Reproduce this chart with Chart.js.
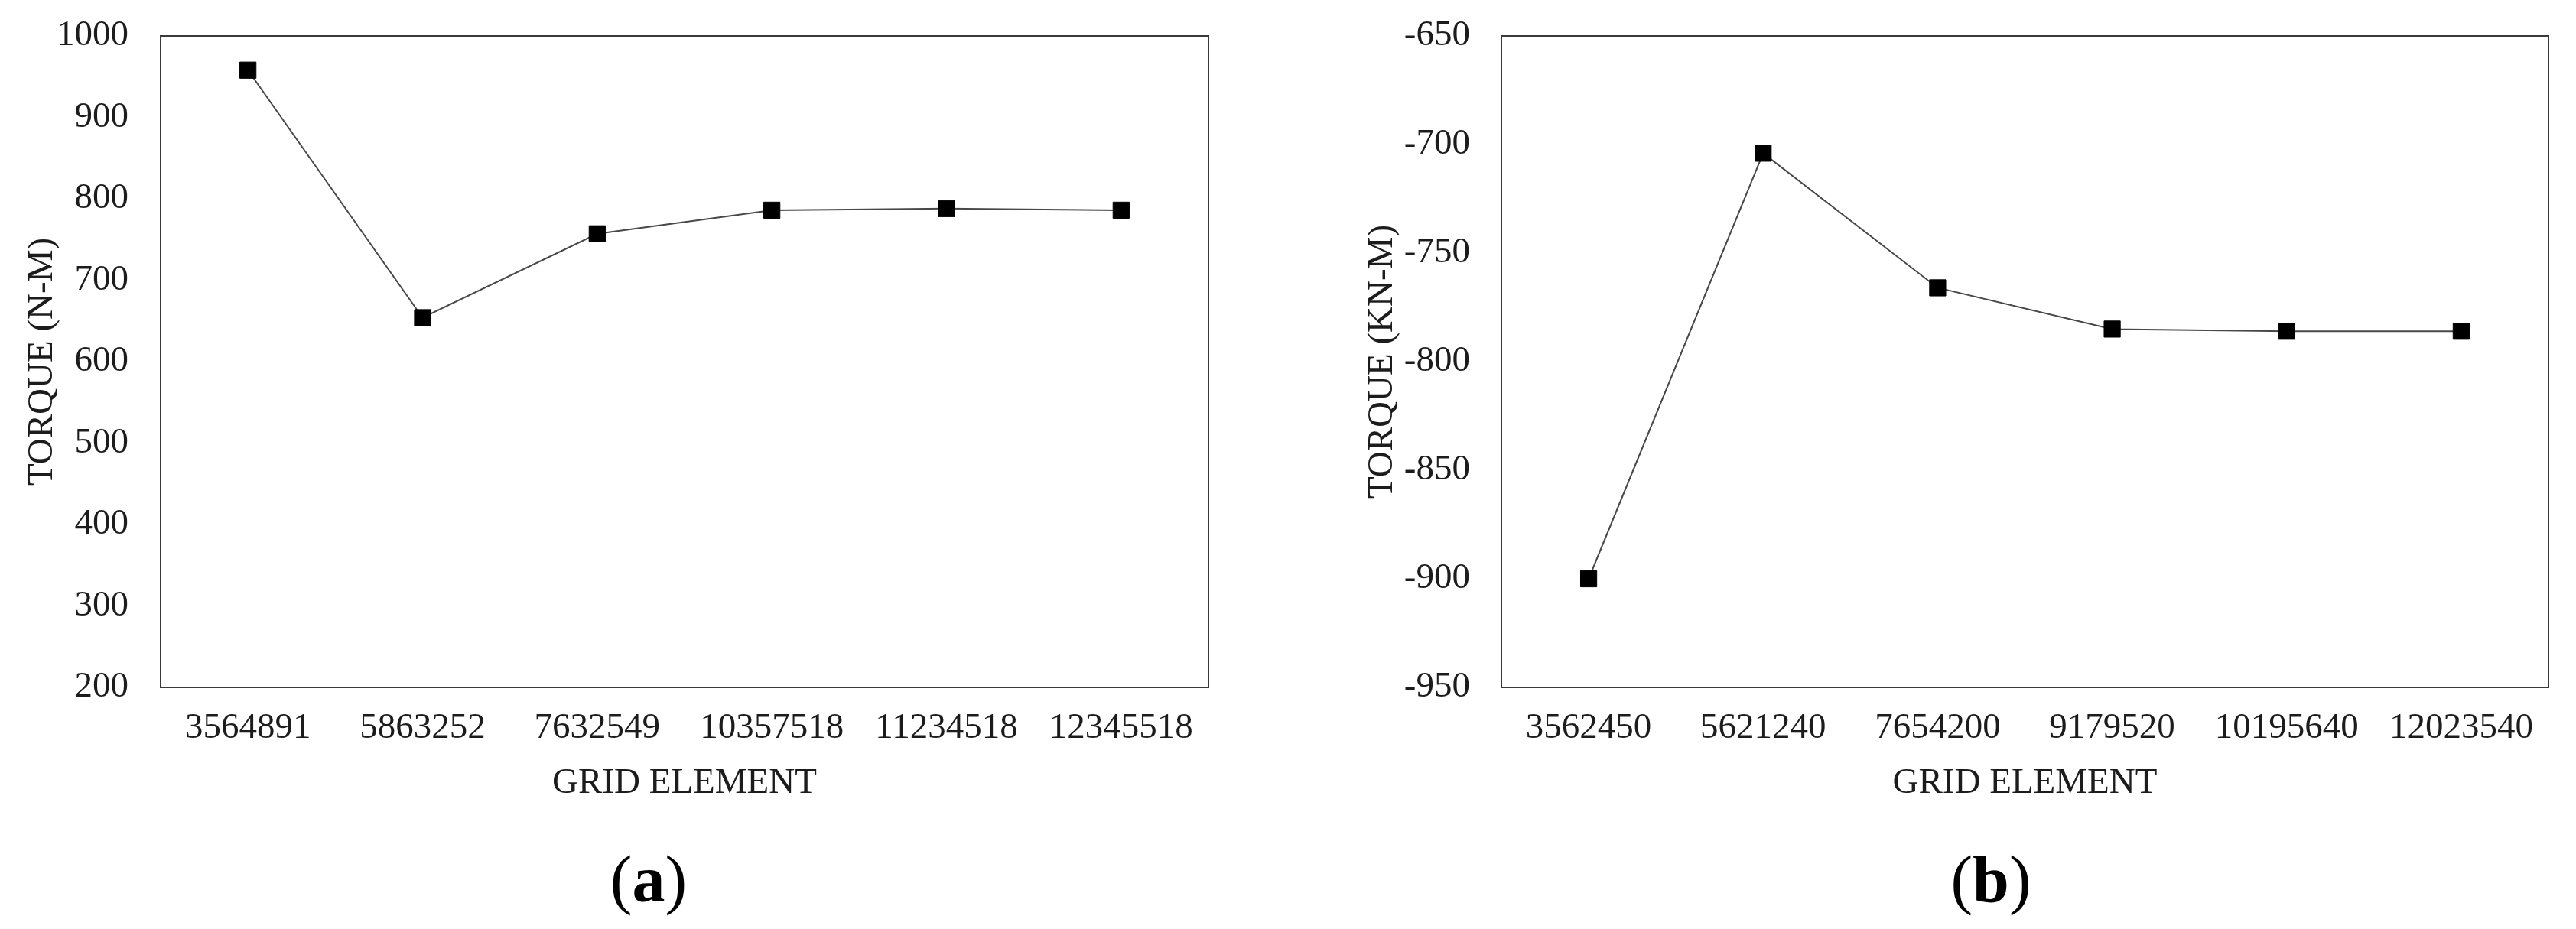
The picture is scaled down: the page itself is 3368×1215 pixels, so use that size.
<!DOCTYPE html>
<html>
<head>
<meta charset="utf-8">
<script src="https://cdn.jsdelivr.net/npm/chart.js@4/dist/chart.umd.min.js"></script>
<style>
  html, body { margin: 0; padding: 0; background: #fff; }
  body { width: 3368px; height: 1215px; position: relative; overflow: hidden; }
  .box { position: absolute; top: 0; height: 1215px; }
  .cap { position: absolute; top: 1107px; transform: translateX(-50%);
         font-family: "Liberation Serif", "Times New Roman", serif; font-size: 86px;
         line-height: 1; color: #000; white-space: nowrap; }
  .cap b { font-weight: bold; }
</style>
</head>
<body>
<div class="box" style="left:0px; width:1600px;"><canvas id="chartA"></canvas></div>
<div class="box" style="left:1750px; width:1618px;"><canvas id="chartB"></canvas></div>
<div class="cap" style="left:848px;">(<b>a</b>)</div>
<div class="cap" style="left:2603px;">(<b>b</b>)</div>
<script>
// (a) torque in N-M
const gridA = ['3564891', '5863252', '7632549', '10357518', '11234518', '12345518'];
const torqueA = [958, 654, 757, 786, 788, 786];
const yRangeA = [200, 1000, 100];

// (b) torque in KN-M
const gridB = ['3562450', '5621240', '7654200', '9179520', '10195640', '12023540'];
const torqueB = [-900, -704, -766, -785, -786, -786];
const yRangeB = [-950, -650, 50];

const serif = 'Liberation Serif';
const ink = '#1c1c1c';

// frame around the plot area
const frame = {
    id: 'frame',
    afterDatasetsDraw(chart) {
        const a = chart.chartArea;
        const ctx = chart.ctx;
        ctx.save();
        ctx.strokeStyle = '#3a3a3a';
        ctx.lineWidth = 2;
        ctx.strokeRect(a.left, a.top, a.right - a.left, a.bottom - a.top);
        ctx.restore();
    }
};

function makeChart(id, labels, values, yRange, yTitle, yAxisWidth, rightPad, titlePad, tickPad) {
    return new Chart(document.getElementById(id), {
        type: 'line',
        data: {
            labels: labels,
            datasets: [{
                data: values,
                borderColor: '#484848',
                borderWidth: 2,
                pointStyle: 'rect',
                pointRadius: 15,
                pointHoverRadius: 15,
                pointBackgroundColor: '#000',
                pointBorderColor: '#000',
                pointBorderWidth: 1,
                tension: 0
            }]
        },
        options: {
            responsive: true,
            maintainAspectRatio: false,
            animation: false,
            layout: { padding: { top: 47, left: 0, right: rightPad, bottom: 156 } },
            plugins: { legend: { display: false }, tooltip: { enabled: false } },
            scales: {
                x: {
                    type: 'category',
                    offset: true,
                    grid: { display: false, drawTicks: false },
                    border: { display: false },
                    ticks: {
                        autoSkip: false, maxRotation: 0, padding: 25, color: ink,
                        font: { family: serif, size: 47 }
                    },
                    title: {
                        display: true, text: 'GRID ELEMENT', color: ink,
                        font: { family: serif, size: 47 },
                        padding: { top: 0, bottom: 6 }
                    },
                    afterFit(scale) { scale.height = 160; }
                },
                y: {
                    min: yRange[0],
                    max: yRange[1],
                    grid: { display: false, drawTicks: false },
                    border: { display: false },
                    ticks: {
                        stepSize: yRange[2], padding: tickPad, color: ink,
                        font: { family: serif, size: 47 },
                        callback: (v) => String(v)
                    },
                    title: {
                        display: true, text: yTitle, color: ink,
                        font: { family: serif, size: 47 },
                        padding: { top: titlePad, bottom: 0 }
                    },
                    afterFit(scale) {
                        scale.width = yAxisWidth;
                        scale.paddingTop = 0;
                        scale.paddingBottom = 0;
                    }
                }
            }
        },
        plugins: [frame]
    });
}

makeChart('chartA', gridA, torqueA, yRangeA, 'TORQUE (N-M)', 210, 20, 27, 42);
makeChart('chartB', gridB, torqueB, yRangeB, 'TORQUE (KN-M)', 213, 36, 29, 41);
</script>
</body>
</html>
